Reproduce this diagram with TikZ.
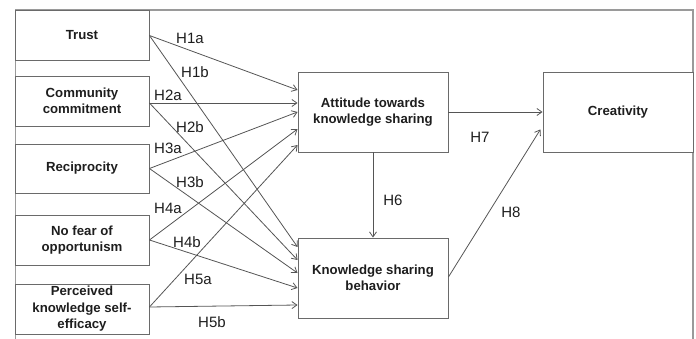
\documentclass[tikz,border=0pt]{standalone}
\usepackage{fontspec}
\setmainfont{Liberation Sans}
\usetikzlibrary{arrows.meta,calc}
\definecolor{boxline}{HTML}{6A6A6A}
\definecolor{arrline}{HTML}{555555}
\definecolor{framecol}{HTML}{9A9A9A}
\definecolor{txt}{HTML}{1E1E1E}
\tikzset{
  varbox/.style={draw=boxline, line width=0.9pt, fill=white, align=center, text=txt,
    font=\fontsize{13.2}{16.5}\selectfont\bfseries, inner sep=2pt},
  leftbox/.style={varbox, minimum width=134pt, minimum height=50pt},
  bigbox/.style={varbox, minimum width=150pt, minimum height=80pt},
  hyp/.style={font=\fontsize{15}{18}\selectfont, text=txt, inner sep=0pt},
  link/.style={draw=arrline, line width=0.8pt, -{Straight Barb[length=5pt,width=7pt]}}
}
\begin{document}
\begin{tikzpicture}[x=1pt,y=-1pt]
\useasboundingbox (0,0) rectangle (696,339);
\draw[framecol, line width=1.6pt] (15.5,339) -- (15.5,10) -- (693,10) -- (693,339);
% left boxes
\node[leftbox] (trust) at (82,35.5) {Trust};
\node[leftbox] (comm) at (82,101) {Community\\commitment};
\node[leftbox, minimum height=49pt] (reci) at (82,168.5) {Reciprocity};
\node[leftbox] (fear) at (82,240) {No fear of\\opportunism};
\node[leftbox] (self) at (82,309) {Perceived\\knowledge self-\\efficacy};
% right boxes
\node[bigbox] (att) at (373,112) {Attitude towards\\knowledge sharing};
\node[bigbox] (ksb) at (373,278) {Knowledge sharing\\behavior};
\node[bigbox] (crea) at (618,112) {Creativity};
% arrows to attitude
\draw[link] (trust.east) -- ([yshift=22pt]att.west);
\draw[link] ([yshift=-2pt]comm.east) -- ([yshift=9pt]att.west);
\draw[link] (reci.east) -- ([yshift=0pt]att.west);
\draw[link] (fear.east) -- ([yshift=-17pt]att.west);
\draw[link] ([yshift=2pt]self.east) -- ([yshift=-33pt]att.west);
% arrows to behavior
\draw[link] (trust.east) -- ([yshift=31pt]ksb.west);
\draw[link] ([yshift=-2pt]comm.east) -- ([yshift=18pt]ksb.west);
\draw[link] (reci.east) -- ([yshift=5pt]ksb.west);
\draw[link] (fear.east) -- ([yshift=-10pt]ksb.west);
\draw[link] ([yshift=2pt]self.east) -- ([yshift=-27pt]ksb.west);
% other arrows
\draw[link] (att.south) -- (ksb.north);
\draw[link] (att.east) -- (crea.west);
\draw[link, shorten >=4pt] ([yshift=1pt]ksb.east) -- ([yshift=-14pt]crea.west);
% labels
\node[hyp] (h1a) at (190,38) {H1a};
\node[hyp] (h1b) at (195,72) {H1b};
\node[hyp] (h2a) at (168,95) {H2a};
\node[hyp] (h2b) at (190,127) {H2b};
\node[hyp] (h3a) at (168,148) {H3a};
\node[hyp] (h3b) at (190,182) {H3b};
\node[hyp] (h4a) at (168,208) {H4a};
\node[hyp] (h4b) at (187,242) {H4b};
\node[hyp] (h5a) at (198,279) {H5a};
\node[hyp] (h5b) at (212,322) {H5b};
\node[hyp] (h6) at (393,200) {H6};
\node[hyp] (h7) at (480,137) {H7};
\node[hyp] (h8) at (511,212) {H8};
\end{tikzpicture}
\end{document}
